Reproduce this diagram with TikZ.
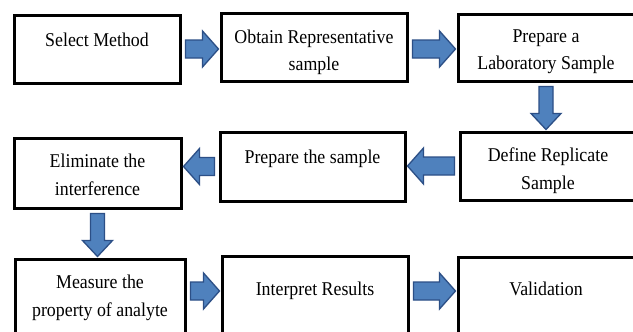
\documentclass[tikz,border=0pt]{standalone}
\usepackage{fontspec}
\setmainfont{Liberation Serif}[FakeStretch=0.915]
\usetikzlibrary{calc}
\definecolor{arrowfill}{HTML}{4F81BD}
\definecolor{arrowline}{HTML}{2C4F86}
\newcommand{\twol}[1]{\begin{tabular}[t]{@{}c@{}}#1\end{tabular}}
\tikzset{
  box/.style={draw=black, line width=3pt, inner sep=0pt, align=center,
    text height=20pt, font=\fontsize{19.5}{28}\selectfont},
  fatarrow/.style args={#1/#2/#3}{fill=arrowfill, draw=arrowline, line width=1.3pt,
    line join=miter,
    to path={let \p1=(\tikztostart), \p2=(\tikztotarget),
      \n1={veclen(\x2-\x1,\y2-\y1)}, \n2={(\x2-\x1)/\n1}, \n3={(\y2-\y1)/\n1},
      \p3=({\x2-1pt*\n2},{\y2-1pt*\n3}),
      \p4=({\x3-#3pt*\n2},{\y3-#3pt*\n3}),
      \p5=({\x1+4pt*\n2},{\y1+4pt*\n3}) in
      ({\x5-#1pt*\n3},{\y5+#1pt*\n2}) -- ({\x4-#1pt*\n3},{\y4+#1pt*\n2})
      -- ({\x4-#2pt*\n3},{\y4+#2pt*\n2}) -- (\p3)
      -- ({\x4+#2pt*\n3},{\y4-#2pt*\n2}) -- ({\x4+#1pt*\n3},{\y4-#1pt*\n2})
      -- ({\x5+#1pt*\n3},{\y5-#1pt*\n2}) -- cycle}},
  harrow/.style={fatarrow=9/18/16},
  varrow/.style={fatarrow=7/15/16}
}
\begin{document}
\begin{tikzpicture}[x=1pt,y=-1pt]
\useasboundingbox (0,0) rectangle (633,332);
\fill[white] (0,0) rectangle (633,332);
\clip (0,0) rectangle (633,332);

% row 1
\node[box, minimum width=166pt, minimum height=68pt, text depth=26pt] (A) at (97,49) {\twol{Select Method}};
\node[box, minimum width=186pt, minimum height=68pt, text depth=28pt] (B) at (314,47) {\twol{Obtain Representative\\ sample}};
\node[box, minimum width=176pt, minimum height=67pt, text depth=31pt] (C) at (546,47.5) {\twol{Prepare a\\ Laboratory Sample}};
% row 2
\node[box, minimum width=176pt, minimum height=68pt, text depth=30pt] (D) at (548,166) {\twol{Define Replicate\\ Sample}};
\node[box, minimum width=185pt, minimum height=69pt, text depth=27pt] (E) at (312.5,166.5) {\twol{Prepare the sample}};
\node[box, minimum width=167pt, minimum height=70pt, text depth=32pt] (F) at (97.5,173) {\twol{Eliminate the\\ interference}};
% row 3
\node[box, minimum width=170pt, minimum height=80pt, text depth=42pt] (G) at (100,299) {\twol{Measure the\\ property of analyte}};
\node[box, minimum width=186pt, minimum height=80pt, text depth=22pt] (H) at (315,296) {\twol{Interpret Results}};
\node[box, minimum width=176pt, minimum height=80pt, text depth=24pt] (I) at (546,297) {\twol{Validation}};

% connectors
\coordinate (b1) at ([yshift=-2pt]B.east);
\coordinate (g1) at ([yshift=8pt]G.east);
\coordinate (h1) at ([yshift=5pt]H.east);
\draw[harrow] (A.east) to (A.east -| B.west);
\draw[harrow] (b1) to (b1 -| C.west);
\draw[varrow] (C.south) to (C.south |- D.north);
\draw[harrow] (D.west) to (D.west -| E.east);
\draw[harrow] (E.west) to (E.west -| F.east);
\draw[varrow] (F.south) to (F.south |- G.north);
\draw[harrow] (g1) to (g1 -| H.west);
\draw[harrow] (h1) to (h1 -| I.west);
\end{tikzpicture}
\end{document}
